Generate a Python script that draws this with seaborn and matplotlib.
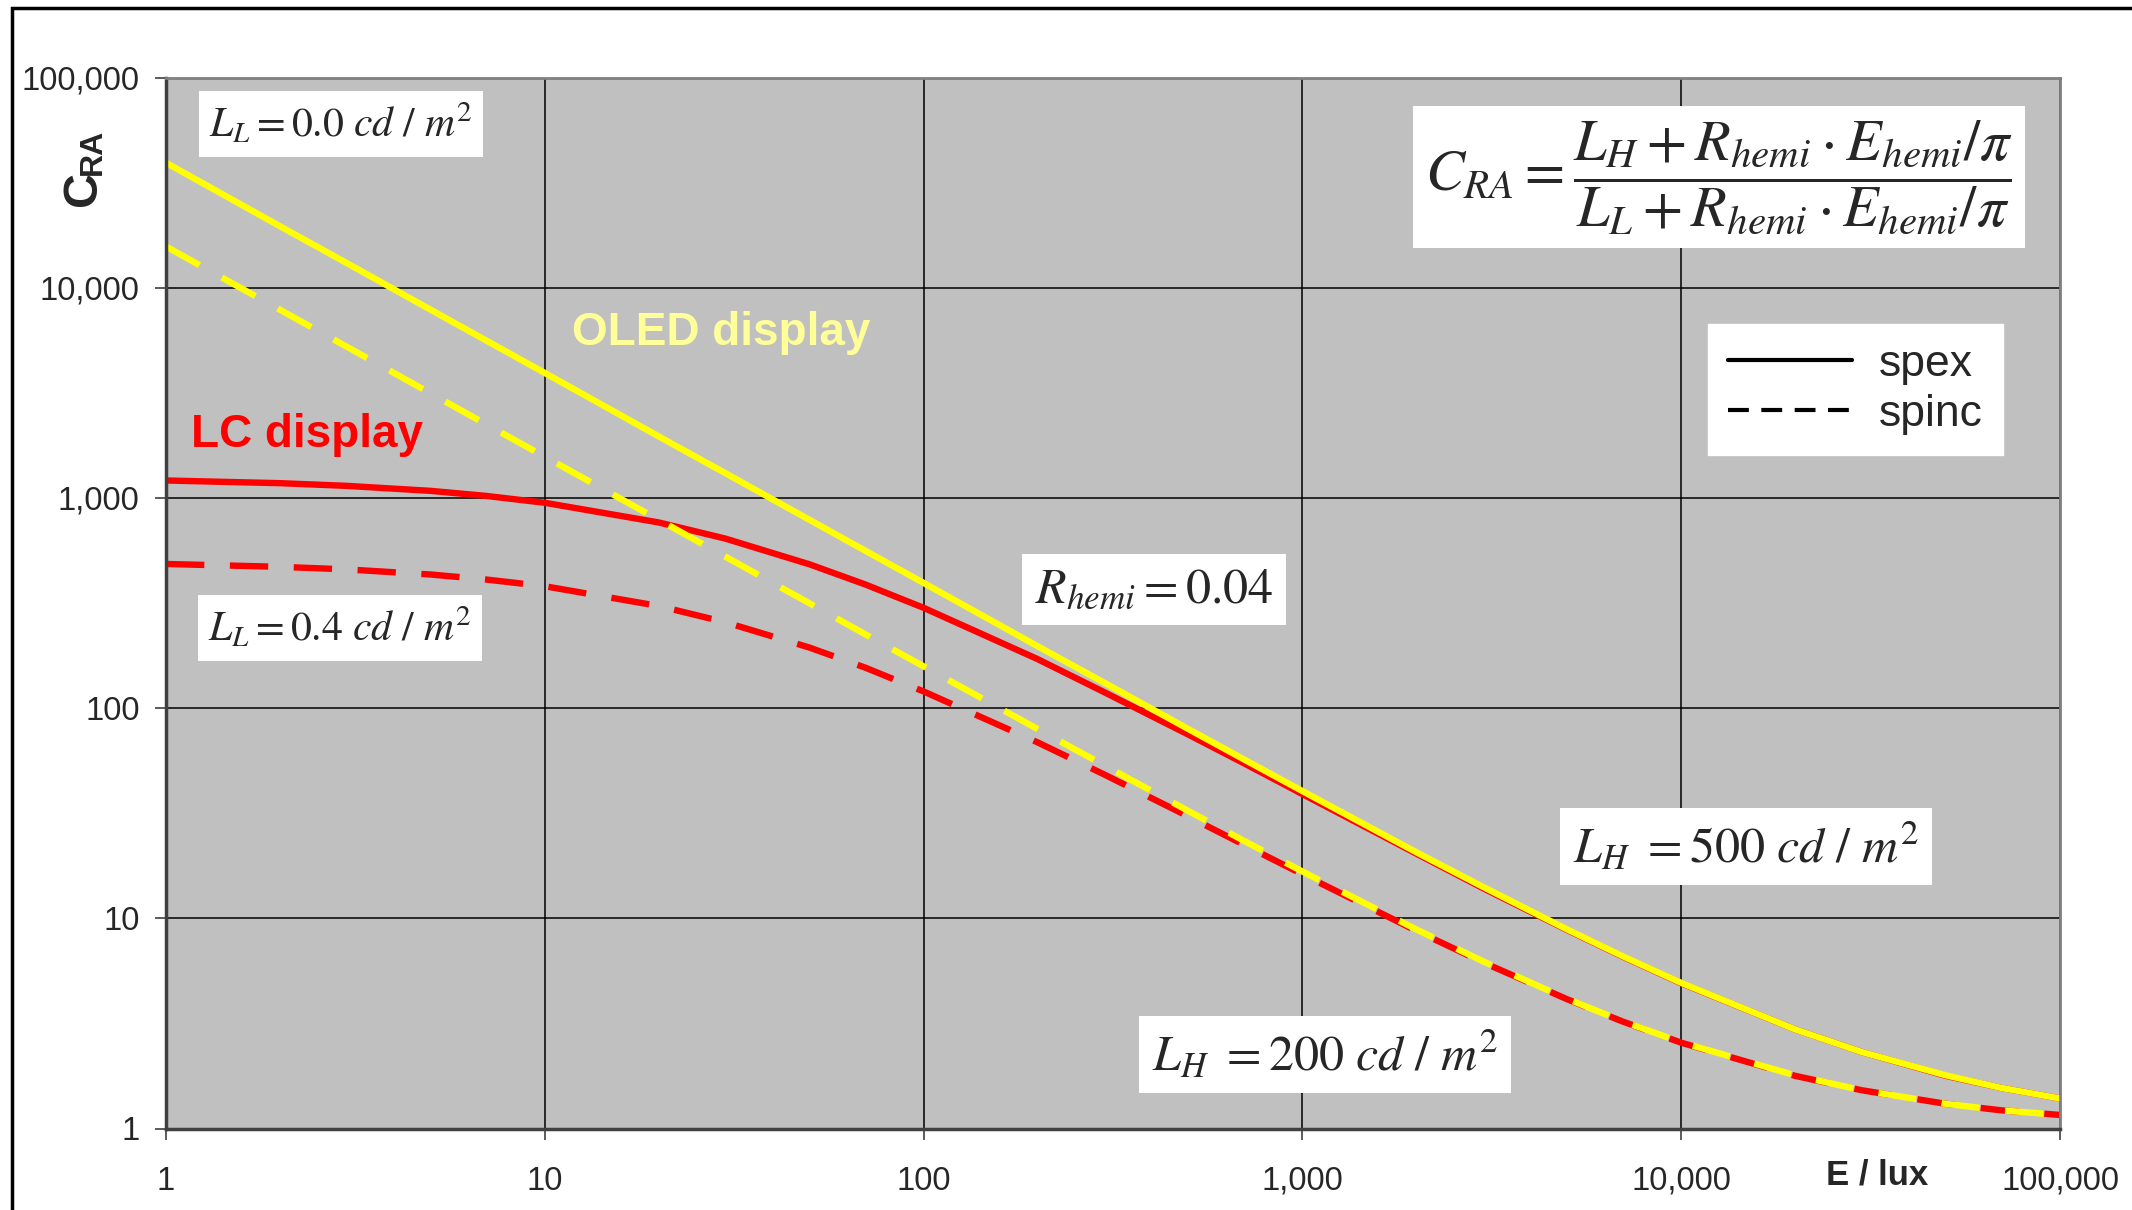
import numpy as np
import pandas as pd
import matplotlib
matplotlib.use("Agg")
import matplotlib.pyplot as plt
import seaborn as sns
from matplotlib.lines import Line2D
from matplotlib.patches import Rectangle
from matplotlib.ticker import FuncFormatter, NullLocator, LogLocator

# values (illuminance in lux vs. ambient contrast ratio)
E_LUX = [1, 2, 3, 5, 7, 10, 20, 30, 50, 70, 100, 200, 300, 500, 700, 1000,
         2000, 3000, 5000, 7000, 10000, 20000, 30000, 50000, 70000, 100000]
OLED_SPEX = [39300, 19600, 13100, 7850, 5610, 3930, 1960, 1310, 786, 562, 394, 197, 132,
             79.5, 57.1, 40.3, 20.6, 14.1, 8.85, 6.61, 4.93, 2.96, 2.31, 1.79, 1.56, 1.39]
OLED_SPINC = [15700, 7850, 5240, 3140, 2240, 1570, 786, 525, 315, 225, 158, 79.5, 53.4,
              32.4, 23.4, 16.7, 8.85, 6.24, 4.14, 3.24, 2.57, 1.79, 1.52, 1.31, 1.22, 1.16]
LC_SPEX = [1210, 1175, 1141, 1080, 1022, 948, 764, 640, 483, 388, 300, 171, 119,
           74.8, 54.7, 39.0, 20.3, 13.9, 8.80, 6.58, 4.91, 2.96, 2.31, 1.78, 1.56, 1.39]
LC_SPINC = [485, 470, 457, 432, 409, 380, 306, 256, 194, 156, 120, 68.7, 48.3,
            30.5, 22.4, 16.2, 8.72, 6.17, 4.12, 3.23, 2.56, 1.78, 1.52, 1.31, 1.22, 1.16]

sns.set_style("white")
plt.rcParams['font.family'] = ['Liberation Sans', 'DejaVu Sans']
plt.rcParams['mathtext.fontset'] = 'stix'

# long-form table for seaborn
rows = []
for disp, kind, vals in [("LC", "spinc", LC_SPINC), ("LC", "spex", LC_SPEX),
                         ("OLED", "spinc", OLED_SPINC), ("OLED", "spex", OLED_SPEX)]:
    for e, c in zip(E_LUX, vals):
        rows.append({"E": e, "CRA": c, "display": disp, "type": kind})
df = pd.DataFrame(rows)

colors = {"LC": "#ff0000", "OLED": "#ffff00"}
dash = (6, 4)

fig = plt.figure(figsize=(21.32, 12.1), dpi=100)
ax = fig.add_axes([166 / 2132, 1 - 1128.5 / 1210, 1894 / 2132, 1051 / 1210])
ax.set_facecolor("#c0c0c0")

# red first so yellow lies on top
for disp in ["LC", "OLED"]:
    for kind in ["spinc", "spex"]:
        sub = df[(df.display == disp) & (df.type == kind)]
        sns.lineplot(data=sub, x="E", y="CRA", ax=ax, color=colors[disp], lw=4.6,
                     dashes=False, estimator=None, sort=False, legend=False)
        if kind == "spinc":
            ax.lines[-1].set_dashes(dash)

ax.set_xscale("log")
ax.set_yscale("log")
ax.set_xlim(1, 100000)
ax.set_ylim(1, 100000)
ax.xaxis.set_major_locator(LogLocator(base=10, numticks=10))
ax.yaxis.set_major_locator(LogLocator(base=10, numticks=10))
ax.xaxis.set_minor_locator(NullLocator())
ax.yaxis.set_minor_locator(NullLocator())
fmt = FuncFormatter(lambda v, p: f"{int(round(v)):,}")
ax.xaxis.set_major_formatter(fmt)
ax.yaxis.set_major_formatter(fmt)
ax.grid(True, which="major", color="black", lw=1.1)
ax.set_axisbelow(True)
ax.tick_params(axis="both", which="major", direction="out", length=8, width=1.2,
               color="#404040", labelsize=23.6, bottom=True, left=True)
ax.tick_params(axis="y", pad=11)
ax.tick_params(axis="x", pad=19)
ax.set_xlabel("")
ax.set_ylabel("")
for side in ["top", "right"]:
    ax.spines[side].set_color("#808080")
    ax.spines[side].set_linewidth(2)
for side in ["left", "bottom"]:
    ax.spines[side].set_color("#404040")
    ax.spines[side].set_linewidth(2.5)

# axis titles
fig.text(84 / 2132, 1 - 188 / 1210, "C", rotation=90, fontsize=35, fontweight="bold",
         ha="center", va="center")
fig.text(93 / 2132, 1 - 152 / 1210, "RA", rotation=90, fontsize=23, fontweight="bold",
         ha="center", va="center")
fig.text(1877 / 2132, 1 - 1175 / 1210, "E / lux", fontsize=25, fontweight="bold",
         ha="center", va="center")

def axfrac(px, py):
    return ((px - 166) / 1894, (1128.5 - py) / 1051)

box = dict(boxstyle="square,pad=0.25", fc="white", ec="none")

ax.text(*axfrac(341, 124), r"$L_L = 0.0\ cd\ /\ m^2$", transform=ax.transAxes,
        fontsize=30, ha="center", va="center", bbox=box)
ax.text(*axfrac(340, 628), r"$L_L = 0.4\ cd\ /\ m^2$", transform=ax.transAxes,
        fontsize=30, ha="center", va="center", bbox=box)
ax.text(*axfrac(1719, 177),
        r"$C_{RA} = \dfrac{L_H + R_{hemi}\cdot E_{hemi}/\pi}{L_L + R_{hemi}\cdot E_{hemi}/\pi}$",
        transform=ax.transAxes, fontsize=42, ha="center", va="center",
        bbox=dict(boxstyle="square,pad=0.2", fc="white", ec="none"))
ax.text(*axfrac(1154, 589), r"$R_{hemi} = 0.04$", transform=ax.transAxes,
        fontsize=36, ha="center", va="center", bbox=box)
ax.text(*axfrac(1746, 846), r"$L_H\ = 500\ cd\ /\ m^2$", transform=ax.transAxes,
        fontsize=36, ha="center", va="center", bbox=box)
ax.text(*axfrac(1325, 1054), r"$L_H\ = 200\ cd\ /\ m^2$", transform=ax.transAxes,
        fontsize=36, ha="center", va="center", bbox=box)

ax.text(*axfrac(721, 333), "OLED display", transform=ax.transAxes, fontsize=33,
        fontweight="bold", color="#ffff99", ha="center", va="center")
ax.text(*axfrac(307, 435), "LC display", transform=ax.transAxes, fontsize=33,
        fontweight="bold", color="#ff0000", ha="center", va="center")

handles = [Line2D([0], [0], color="black", lw=3, label="spex"),
           Line2D([0], [0], color="black", lw=3, dashes=(5, 3), label="spinc")]
leg = ax.legend(handles=handles, loc="upper right", bbox_to_anchor=axfrac(2003, 324),
                borderaxespad=0, fontsize=32, handlelength=2.8, frameon=True,
                fancybox=False, framealpha=1, edgecolor="white", labelspacing=0.2,
                handletextpad=0.6, borderpad=0.45)

# outer frame of the chart object (cut off at right and bottom)
fig.add_artist(Rectangle((12 / 2132, -0.1), 1.2, 1.1 - 8 / 1210, transform=fig.transFigure,
                         fill=False, ec="black", lw=2.5))

fig.savefig("out.png", dpi=100)
print("out.png saved.")
